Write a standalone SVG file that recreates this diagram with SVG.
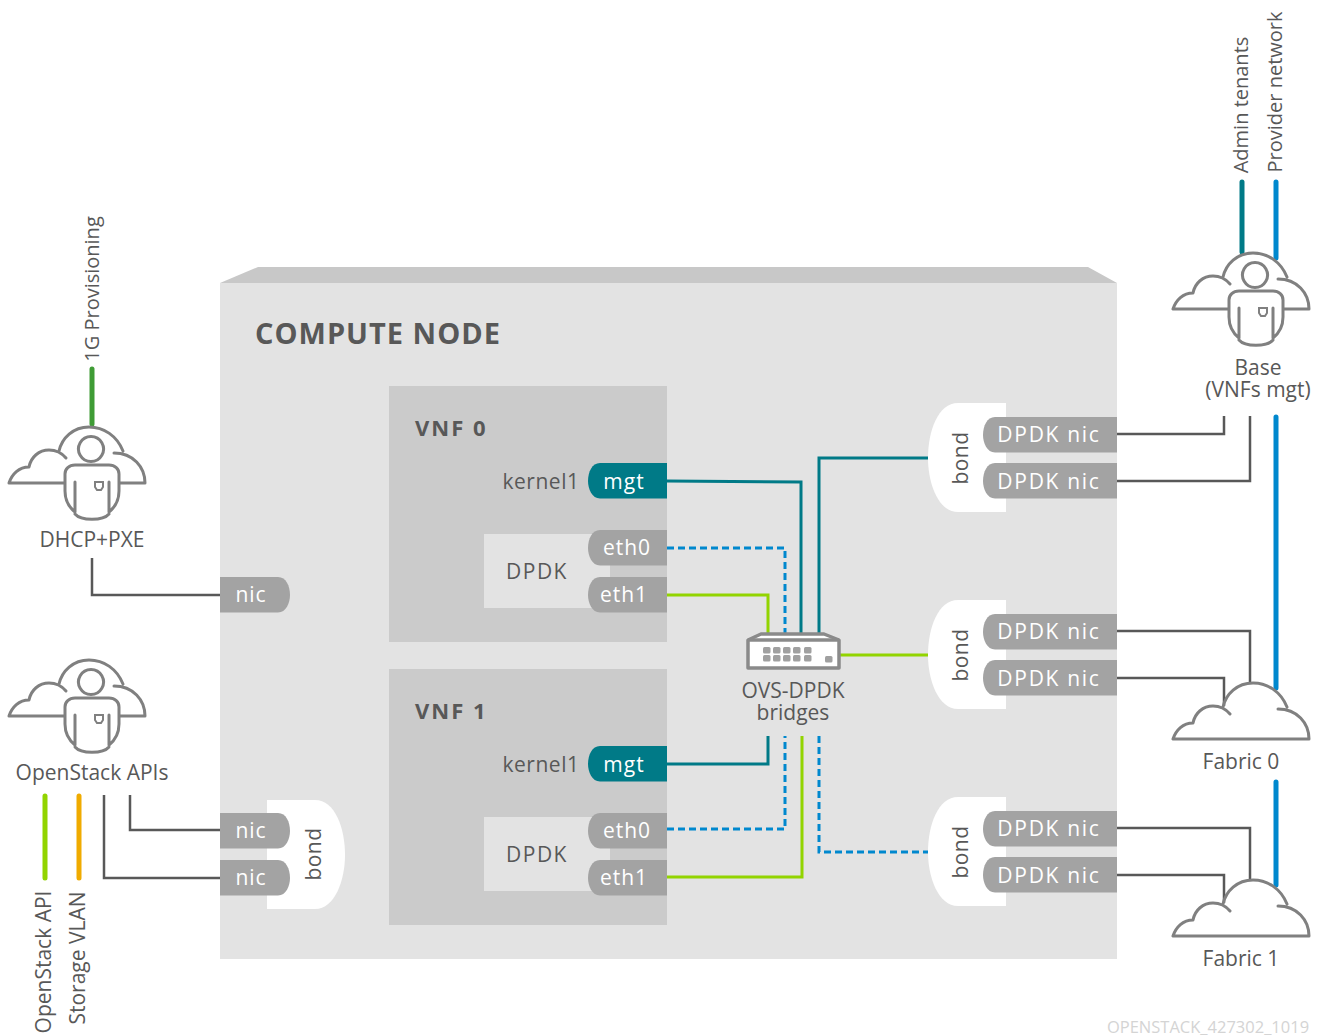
<svg xmlns="http://www.w3.org/2000/svg" width="1326" height="1036" viewBox="0 0 1326 1036">
<style>
text{font-family:"Open Sans","Noto Sans","Liberation Sans",sans-serif;font-size:21px;fill:#585858;text-anchor:middle}
.w{fill:#fff;letter-spacing:1px}
.dn{fill:#fff;letter-spacing:1.700px}
.b{letter-spacing:.5px}
.s{font-size:20px}
.d{letter-spacing:1.500px}
.ico{fill:none;stroke:#808080;stroke-width:3;stroke-linecap:round;stroke-linejoin:round}
.port{fill:#a3a3a3}
.mg{fill:#007a87}
.vnf{fill:#cbcbcb}
.lb{fill:#e3e3e3}
.bond{fill:#fff}
.c path{fill:none}
.teal{stroke:#007a87;stroke-width:3}
.blue{stroke:#0088ce;stroke-width:3;stroke-dasharray:7 4}
.green{stroke:#92d400;stroke-width:3}
.thin{stroke:#585858;stroke-width:2.500}
.thick{stroke-width:5;stroke-linecap:round}
.sp{fill:#a0a0a0}
.vn{font-weight:700;text-anchor:start;font-size:22px;letter-spacing:2px}
</style>
<defs>
<g id="cloud"><path class="ico" d="M0 56H136C136 40 124 26 105 26M114 24C108 9 95 0 80 0C64 0 53 11 50 24M57 31C52 25 46 23 40 23C30 23 22 30 20 40C10 40 3 47 0 56"/></g>
<g id="person"><path d="M56 47C56 42 60 38 66 38H100C106 38 110 42 110 47V66C110 76 105 82 100 87C94 94 72 94 66 87C61 82 56 76 56 66Z" fill="#fff"/>
<path class="ico" d="M82 9.500a12.500 12.500 0 1 0 .01 0ZM56 64V47C56 42 60 38 66 38H100C106 38 110 42 110 47V64C110 74 105 81 100 85V55M66 55V85C61 81 56 74 56 64M66 87C72 94 94 94 100 87"/><path d="M86 55H94V60L92 63H88L86 60Z" fill="none" stroke="#808080" stroke-width="2"/></g>
<path id="pl" d="M12 0H79V35.500H12C4 35.500 0 26 0 18C0 9 4 0 12 0Z"/>
<path id="nl" d="M12 0H134V35.500H12C4 35.500 0 26 0 18C0 9 4 0 12 0Z"/>
<path id="nr" d="M0 0H58C66 0 70 9 70 18C70 26 66 35.500 58 35.500H0Z"/>
<path id="bl" d="M78 0V109H30C10 109 0 80 0 55C0 28 10 0 30 0Z"/>
<path id="br" d="M0 0V109H48C68 109 78 80 78 55C78 28 68 0 48 0Z"/>
<g id="rj"><rect x="0" y="0" width="7.500" height="6.500" rx="1.500" class="sp"/></g>
</defs>
<g id="compute-node">
<path d="M220 283L258 267H1088L1117 283Z" fill="#c8c8c8"/>
<rect x="220" y="283" width="897" height="676" fill="#e3e3e3"/>
<text x="255" y="344" style="font-size:29px;font-weight:700;text-anchor:start;letter-spacing:1px">COMPUTE NODE</text>
</g>
<g id="vnf0">
<rect x="389" y="386" width="278" height="256" class="vnf"/>
<text x="415" y="436" class="vn">VNF 0</text>
<text x="541" y="489" class="b">kernel1</text>
<rect x="484" y="534" width="126" height="74" class="lb"/>
<text x="537" y="579" class="d">DPDK</text>
<use href="#pl" x="588" y="463" class="mg"/><text x="624" y="489" class="w">mgt</text>
<use href="#pl" x="588" y="530" class="port"/><text x="627" y="555" class="w">eth0</text>
<use href="#pl" x="588" y="577" class="port"/><text x="624" y="602" class="w">eth1</text>
</g>
<g id="vnf1">
<rect x="389" y="669" width="278" height="256" class="vnf"/>
<text x="415" y="719" class="vn">VNF 1</text>
<text x="541" y="772" class="b">kernel1</text>
<rect x="484" y="817" width="126" height="74" class="lb"/>
<text x="537" y="862" class="d">DPDK</text>
<use href="#pl" x="588" y="746" class="mg"/><text x="624" y="772" class="w">mgt</text>
<use href="#pl" x="588" y="813" class="port"/><text x="627" y="838" class="w">eth0</text>
<use href="#pl" x="588" y="860" class="port"/><text x="624" y="885" class="w">eth1</text>
</g>
<g id="connectors" class="c">
<path class="teal" d="M667 481L801 482V634M819 634V458H928M667 764H768V736"/>
<path class="blue" d="M667 548H785V634M667 829H785V736M819 736V852H928"/>
<path class="green" d="M667 595H768V634M840 655H928M667 877H802V736"/>
<path class="thin" d="M1117 434H1224V416M1117 481H1250V416M1117 631H1250V684M1117 678H1224V706M1117 828H1250V881M1117 875H1224V903M92 558V595H220M130 795V830H220M104 795V878H220"/>
<path class="thick" stroke="#007a87" d="M1242 182V252"/>
<path class="thick" stroke="#0088ce" d="M1276 182V258M1276 417V688M1276 782V885"/>
<path class="thick" stroke="#3f9c35" d="M92 369V424"/>
<path class="thick" stroke="#92d400" d="M45 796V878"/>
<path class="thick" stroke="#f0ab00" d="M79 796V878"/>
</g>
<g id="nic-single"><use href="#nr" x="220" y="577" class="port"/><text x="251" y="602" class="w">nic</text></g>
<g id="bond-left">
<use href="#br" x="267" y="800" class="bond"/>
<use href="#nr" x="220" y="813" class="port"/><text x="251" y="838" class="w">nic</text>
<use href="#nr" x="220" y="860" class="port"/><text x="251" y="885" class="w">nic</text>
<text transform="translate(321 854) rotate(-90)" class="b">bond</text>
</g>
<g id="bond-r0">
<use href="#bl" x="928" y="403" class="bond"/>
<use href="#nl" x="983" y="417" class="port"/><text x="1049" y="442" class="dn">DPDK nic</text>
<use href="#nl" x="983" y="463" class="port"/><text x="1049" y="489" class="dn">DPDK nic</text>
<text transform="translate(968 458) rotate(-90)" class="b">bond</text>
</g>
<g id="bond-r1">
<use href="#bl" x="928" y="600" class="bond"/>
<use href="#nl" x="983" y="614" class="port"/><text x="1049" y="639" class="dn">DPDK nic</text>
<use href="#nl" x="983" y="660" class="port"/><text x="1049" y="686" class="dn">DPDK nic</text>
<text transform="translate(968 655) rotate(-90)" class="b">bond</text>
</g>
<g id="bond-r2">
<use href="#bl" x="928" y="797" class="bond"/>
<use href="#nl" x="983" y="811" class="port"/><text x="1049" y="836" class="dn">DPDK nic</text>
<use href="#nl" x="983" y="857" class="port"/><text x="1049" y="883" class="dn">DPDK nic</text>
<text transform="translate(968 852) rotate(-90)" class="b">bond</text>
</g>
<g id="ovs-dpdk">
<path d="M748 640L761 634H824L839 640V668H748Z" fill="#fff" stroke="#8a8a8a" stroke-width="3.500" stroke-linejoin="round"/>
<path d="M748 640H839" stroke="#8a8a8a" stroke-width="3.500"/>
<use href="#rj" x="763" y="647"/><use href="#rj" x="773" y="647"/><use href="#rj" x="783" y="647"/><use href="#rj" x="793" y="647"/><use href="#rj" x="804" y="647"/>
<use href="#rj" x="763" y="655"/><use href="#rj" x="773" y="655"/><use href="#rj" x="783" y="655"/><use href="#rj" x="793" y="655"/><use href="#rj" x="804" y="655"/>
<use href="#rj" x="825" y="656"/>
<text x="793" y="698">OVS-DPDK</text><text x="793" y="720">bridges</text>
</g>
<g id="base"><use href="#cloud" x="1173" y="253"/><use href="#person" x="1173" y="253"/>
<text x="1258" y="375">Base</text><text x="1258" y="397">(VNFs mgt)</text></g>
<g id="fabric0"><use href="#cloud" x="1173" y="683"/><text x="1241" y="769">Fabric 0</text></g>
<g id="fabric1"><use href="#cloud" x="1173" y="880"/><text x="1241" y="966">Fabric 1</text></g>
<g id="dhcp"><use href="#cloud" x="9" y="427"/><use href="#person" x="9" y="427"/><text x="92" y="547">DHCP+PXE</text></g>
<g id="openstack"><use href="#cloud" x="9" y="660"/><use href="#person" x="9" y="660"/><text x="92" y="780">OpenStack APIs</text></g>
<g id="labels">
<text transform="translate(1248 105) rotate(-90)" class="s">Admin tenants</text>
<text transform="translate(1282 92) rotate(-90)" class="s">Provider network</text>
<text transform="translate(99 289) rotate(-90)" class="s">1G Provisioning</text>
<text transform="translate(51 962) rotate(-90)">OpenStack API</text>
<text transform="translate(85 958) rotate(-90)">Storage VLAN</text>
<text x="1208" y="1033" style="font-size:16.500px;fill:#d4d4d4">OPENSTACK_427302_1019</text>
</g>
</svg>
